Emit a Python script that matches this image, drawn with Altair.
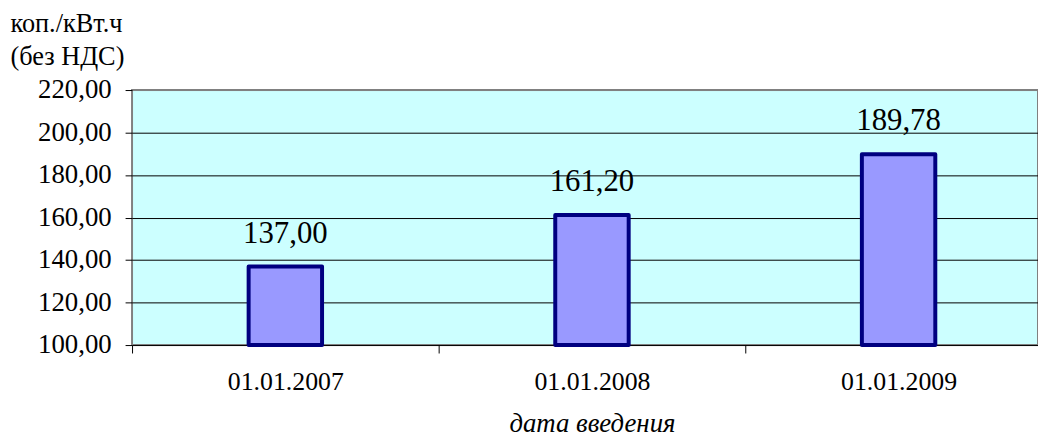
import altair as alt
import pandas as pd

dates = ["01.01.2007", "01.01.2008", "01.01.2009"]
values = [137.00, 161.20, 189.78]
y_ticks = [100, 120, 140, 160, 180, 200, 220]

df = pd.DataFrame({"date": dates, "value": values})

FONT = "Liberation Serif"
fmt = "replace(format(datum.value, '.2f'), '.', ',')"

x_enc = alt.X(
    "date:N",
    sort=dates,
    scale=alt.Scale(range=[0, 927], paddingInner=0, paddingOuter=0),
    axis=alt.Axis(
        title="дата введения",
        labelAngle=0,
        tickBand="extent",
        tickSize=8,
        tickColor="black",
        tickWidth=1,
        labelFont=FONT,
        labelFontSize=26,
        labelColor="black",
        labelPadding=16,
        domain=False,
        titleFont=FONT,
        titleFontSize=27,
        titleFontStyle="italic",
        titleFontWeight="normal",
        titleColor="black",
        titleBaseline="alphabetic",
        titleY=87,
    ),
)

y_enc = alt.Y(
    "value:Q",
    scale=alt.Scale(domain=[100, 220], nice=False, zero=False),
    axis=alt.Axis(
        values=y_ticks,
        labelExpr=fmt,
        title=["коп./кВт.ч", "(без НДС)"],
        titleAngle=0,
        titleAlign="left",
        titleBaseline="alphabetic",
        titleX=-123,
        titleY=-59,
        titleFont=FONT,
        titleFontSize=26.5,
        titleFontWeight="normal",
        titleColor="black",
        titleLineHeight=33,
        grid=True,
        gridColor=alt.condition("datum.value >= 220", alt.value("#808080"), alt.value("black")),
        gridWidth=1,
        tickSize=7,
        tickColor="black",
        labelFont=FONT,
        labelFontSize=27,
        labelColor="black",
        labelPadding=14,
        domain=False,
    ),
)

base = alt.Chart(df).encode(x=x_enc)

bars = base.mark_bar(
    size=74, fill="#9999FF", stroke="#000080", strokeWidth=4, strokeJoin="round"
).encode(y=y_enc, y2=alt.datum(100))

labels = base.transform_calculate(label=fmt).mark_text(
    font=FONT, fontSize=31, baseline="alphabetic", dy=-24, color="black"
).encode(y=alt.Y("value:Q"), text="label:N")

chart = (
    alt.layer(bars, labels)
    .properties(
        width=913,
        height=257,
        autosize=alt.AutoSizeParams(type="none"),
        padding={"left": 125, "top": 81, "right": 0, "bottom": 93},
    )
    .configure_view(fill="#CCFFFF", stroke="#808080", strokeWidth=2)
)

chart.save("out.html", embed_options={"renderer": "svg", "actions": False})
